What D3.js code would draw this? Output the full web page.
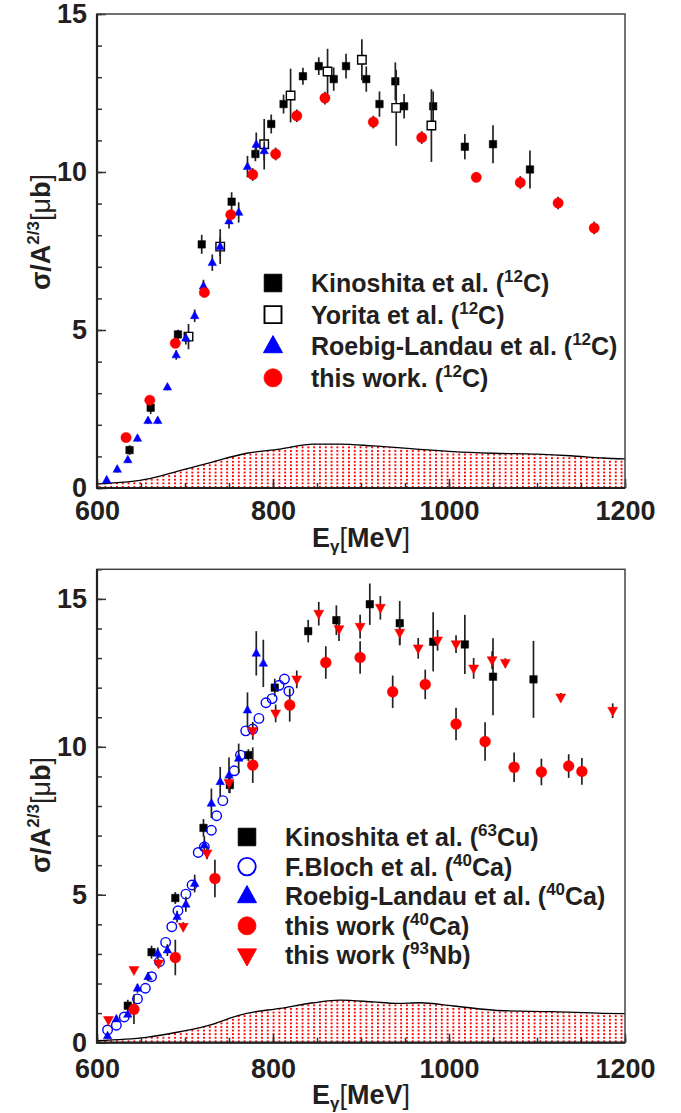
<!DOCTYPE html>
<html>
<head>
<meta charset="utf-8">
<script src="https://cdn.jsdelivr.net/npm/d3@7"></script>
<style>
body { margin: 0; background: #fff; }
text { font-family: "Liberation Sans", Arial, Helvetica, sans-serif; fill: #231f20; }
</style>
</head>
<body>
<svg id="chart" width="681" height="1113"></svg>
<script>
// ---------- top panel: 12C ----------
const kinoC_E   = [637, 661, 692, 719, 753, 780, 798, 812, 834, 852, 869, 883, 906, 921, 939, 949, 982, 1018, 1050, 1092];
const kinoC_V   = [1.20, 2.54, 4.86, 7.71, 9.06, 10.57, 11.52, 12.15, 13.03, 13.35, 12.94, 13.35, 12.94, 12.15, 12.87, 12.08, 12.08, 10.80, 10.88, 10.08];
const kinoC_Err = [0.15, 0.2, 0.15, 0.3, 0.3, 0.23, 0.3, 0.3, 0.27, 0.28, 0.37, 0.39, 0.4, 0.4, 0.6, 0.39, 0.47, 0.4, 0.6, 0.6];

const yoritaC_E   = [704, 740, 790, 820, 862, 901, 940, 980];
const yoritaC_V   = [4.79, 7.64, 10.88, 12.42, 13.18, 13.55, 12.03, 11.47];
const yoritaC_Err = [0.4, 0.55, 0.8, 0.85, 0.72, 0.65, 1.2, 1.15];

const roebigC_E   = [611, 623, 635, 646, 658, 669, 680, 690, 701, 711, 721, 731, 740, 750, 761, 771, 781, 790];
const roebigC_V   = [0.25, 0.59, 0.89, 1.57, 2.13, 2.13, 3.19, 4.21, 4.74, 5.45, 6.39, 7.13, 7.64, 8.45, 8.72, 10.17, 10.87, 10.67];
const roebigC_Err = [0.1, 0.1, 0.1, 0.1, 0.1, 0.1, 0.1, 0.15, 0.2, 0.2, 0.2, 0.26, 0.3, 0.24, 0.32, 0.34, 0.38, 0.3];

const thisC_E   = [633, 660, 689, 722, 752, 777, 803, 827, 859, 914, 969, 1031, 1081, 1124, 1165];
const thisC_V   = [1.60, 2.78, 4.58, 6.19, 8.65, 9.92, 10.57, 11.78, 12.34, 11.58, 11.09, 9.83, 9.67, 9.02, 8.23];
const thisC_Err = [0.1, 0.1, 0.1, 0.15, 0.15, 0.2, 0.2, 0.2, 0.2, 0.2, 0.2, 0.15, 0.2, 0.2, 0.2];

const bandC_E = [600, 660, 694, 732, 770, 808, 846, 876, 914, 960, 1005, 1050, 1100, 1138, 1175, 1200];
const bandC_V = [0.13, 0.30, 0.55, 0.83, 1.10, 1.23, 1.39, 1.39, 1.33, 1.24, 1.15, 1.10, 1.07, 1.02, 0.95, 0.92];

// ---------- bottom panel: 63Cu, 40Ca, 93Nb ----------
const kinoCu_E   = [635, 662, 689, 721, 751, 772, 802, 840, 872, 910, 944, 982, 1018, 1050, 1096];
const kinoCu_V   = [1.25, 3.06, 4.89, 7.26, 8.71, 9.72, 12.0, 13.91, 14.28, 14.82, 14.18, 13.55, 13.46, 12.37, 12.28];
const kinoCu_Err = [0.2, 0.22, 0.2, 0.3, 0.28, 0.2, 0.3, 0.38, 0.5, 0.7, 0.75, 1.0, 1.0, 1.3, 1.3];

const blochCa_E = [612, 622, 631, 646, 655, 662, 671, 678, 685, 692, 701, 708, 715, 722, 730, 736, 743, 756, 763, 769, 777, 784, 792, 799, 807, 813, 818];
const blochCa_V = [0.43, 0.59, 0.87, 1.48, 1.84, 2.23, 2.74, 3.39, 3.92, 4.46, 5.02, 5.33, 6.43, 6.62, 7.18, 7.67, 8.18, 9.19, 9.72, 10.54, 10.6, 10.96, 11.49, 11.63, 12.08, 12.29, 11.88];

const roebigCa_E   = [612, 622, 635, 646, 658, 669, 680, 691, 701, 711, 722, 730, 740, 750, 761, 771, 781, 789];
const roebigCa_V   = [0.23, 0.80, 0.96, 1.84, 2.23, 3.02, 3.13, 4.26, 4.68, 5.38, 6.68, 8.09, 8.82, 9.04, 9.61, 11.24, 13.16, 12.82];
const roebigCa_Err = [0.1, 0.1, 0.1, 0.15, 0.15, 0.2, 0.2, 0.2, 0.25, 0.3, 0.3, 0.5, 0.5, 0.6, 0.5, 0.6, 0.75, 0.8];

const thisCa_E   = [642, 689, 734, 777, 819, 860, 899, 936, 973, 1008, 1041, 1074, 1105, 1136, 1151];
const thisCa_V   = [1.13, 2.88, 5.55, 9.38, 11.41, 12.85, 13.02, 11.86, 12.11, 10.77, 10.18, 9.31, 9.15, 9.35, 9.17];
const thisCa_Err = [0.5, 0.6, 0.63, 0.6, 0.56, 0.55, 0.55, 0.55, 0.5, 0.55, 0.65, 0.5, 0.45, 0.4, 0.45];

const thisNb_E   = [613, 642, 670, 698, 725, 750, 777, 803, 827, 852, 875, 899, 922, 944, 965, 987, 1008, 1028, 1049, 1064, 1127, 1186];
const thisNb_V   = [0.77, 2.46, 2.68, 3.92, 6.40, 8.78, 10.54, 11.13, 12.28, 14.50, 13.98, 14.06, 14.70, 13.86, 13.33, 13.60, 13.47, 12.65, 12.93, 12.84, 11.67, 11.22];
const thisNb_Err = [0.1, 0.1, 0.15, 0.15, 0.2, 0.2, 0.3, 0.3, 0.3, 0.4, 0.4, 0.4, 0.4, 0.4, 0.35, 0.35, 0.3, 0.35, 0.3, 0.15, 0.15, 0.25];

const bandCa_E = [600, 656, 694, 732, 751, 770, 808, 846, 876, 914, 940, 967, 1005, 1062, 1118, 1175, 1200];
const bandCa_V = [0.07, 0.18, 0.37, 0.63, 0.83, 0.99, 1.16, 1.35, 1.44, 1.38, 1.33, 1.35, 1.24, 1.08, 1.05, 0.99, 0.98];

// ---------- ticks and labels ----------
const xMajorTicks = [600, 800, 1000, 1200];
const yMajorTicks = [0, 5, 10, 15];

const topLegendNames = ["Kinoshita et al. (", "Yorita et al. (", "Roebig-Landau et al. (", "this work. ("];
const topLegendIso   = ["12", "12", "12", "12"];
const topLegendElem  = ["C)", "C)", "C)", "C)"];

const botLegendNames = ["Kinoshita et al. (", "F.Bloch et al. (", "Roebig-Landau et al. (", "this work (", "this work ("];
const botLegendIso   = ["63", "40", "40", "40", "93"];
const botLegendElem  = ["Cu)", "Ca)", "Ca)", "Ca)", "Nb)"];

const svg = d3.select("#chart");

// red dotted fill of the systematic band
const pat = svg.append("defs").append("pattern")
    .attr("id", "dots")
    .attr("patternUnits", "userSpaceOnUse")
    .attr("width", 5.8).attr("height", 3.6);
pat.append("rect").attr("width", 1.9).attr("height", 1.9).attr("fill", "#ff0000");

// marker shapes
const shapePath = (shape, s) => {
    if (shape === "square") return `M${-s/2},${-s/2}h${s}v${s}h${-s}Z`;
    const h = s * 0.9;
    if (shape === "triUp") return `M0,${-h*0.62}L${s/2},${h*0.38}L${-s/2},${h*0.38}Z`;
    if (shape === "triDown") return `M0,${h*0.62}L${s/2},${-h*0.38}L${-s/2},${-h*0.38}Z`;
    return null;
};

const drawMarker = (g, shape, s, fill, stroke, sw) => {
    if (shape === "circle") {
        return g.append("circle").attr("r", s / 2)
            .attr("fill", fill).attr("stroke", stroke).attr("stroke-width", sw);
    }
    return g.append("path").attr("d", shapePath(shape, s))
        .attr("fill", fill).attr("stroke", stroke).attr("stroke-width", sw);
};

function drawPanel(p) {
    const x = d3.scaleLinear().domain([600, 1200]).range([p.x0, p.x1]);
    const y = d3.scaleLinear().domain([0, p.yMax]).range([p.yBot, p.yTop]);
    const g = svg.append("g");

    // band
    const area = d3.area()
        .x((d, i) => x(p.bandE[i]))
        .y0(y(0))
        .y1((d, i) => y(p.bandV[i]))
        .curve(d3.curveMonotoneX);
    const line = d3.line()
        .x((d, i) => x(p.bandE[i]))
        .y((d, i) => y(p.bandV[i]))
        .curve(d3.curveMonotoneX);
    g.append("path").datum(p.bandE).attr("d", area).attr("fill", "url(#dots)");
    g.append("path").datum(p.bandE).attr("d", line)
        .attr("fill", "none").attr("stroke", "#000").attr("stroke-width", 1.3);

    // axes, ticks drawn inward
    const styleAxis = sel => {
        sel.select(".domain").remove();
        sel.attr("color", "#333")
            .attr("font-family", "'Liberation Sans', Arial, sans-serif")
            .attr("font-size", 27)
            .attr("font-weight", "bold");
        sel.selectAll("text").attr("fill", "#231f20");
        sel.selectAll("line").attr("stroke-width", 1.5);
    };
    g.append("g").attr("transform", `translate(${p.x0},0)`)
        .call(d3.axisLeft(y).tickValues(d3.range(0, p.yMax + 1, 1)).tickSize(-5).tickFormat(""))
        .call(styleAxis);
    g.append("g").attr("transform", `translate(${p.x0},0)`)
        .call(d3.axisLeft(y).tickValues(yMajorTicks).tickSize(-9).tickPadding(10))
        .call(styleAxis);
    g.append("g").attr("transform", `translate(0,${p.yBot})`)
        .call(d3.axisBottom(x).tickValues(d3.range(600, 1201, 50)).tickSize(-5).tickFormat(""))
        .call(styleAxis);
    g.append("g").attr("transform", `translate(0,${p.yBot})`)
        .call(d3.axisBottom(x).tickValues(xMajorTicks).tickSize(-9).tickPadding(p.xPad).tickFormat(d3.format("d")))
        .call(styleAxis);

    // frame
    g.append("rect")
        .attr("x", p.x0).attr("y", p.yTop)
        .attr("width", p.x1 - p.x0).attr("height", p.yBot - p.yTop)
        .attr("fill", "none").attr("stroke", "#444").attr("stroke-width", 1.5);
    g.append("path")
        .attr("d", `M${p.x0},${p.yTop}V${p.yBot}H${p.x1}`)
        .attr("fill", "none").attr("stroke", "#222").attr("stroke-width", 2.2);

    // error bars then markers, series by series
    p.series.forEach(s => {
        const sg = g.append("g");
        if (s.err) {
            s.E.forEach((e, i) => {
                sg.append("line")
                    .attr("x1", x(e)).attr("x2", x(e))
                    .attr("y1", y(s.V[i] - s.err[i])).attr("y2", y(s.V[i] + s.err[i]))
                    .attr("stroke", "#222").attr("stroke-width", 1.7);
            });
        }
        s.E.forEach((e, i) => {
            const mg = sg.append("g").attr("transform", `translate(${x(e)},${y(s.V[i])})`);
            drawMarker(mg, s.shape, s.size, s.fill, s.stroke, s.sw);
        });
    });

    // legend
    const L = p.legend;
    p.series.forEach((s, i) => {
        const cy = L.y0 + i * L.dy;
        const mg = g.append("g").attr("transform", `translate(${L.x},${cy})`);
        drawMarker(mg, s.shape, s.legendSize, s.fill, s.stroke, s.sw + 0.5);
        const t = g.append("text")
            .attr("x", L.tx).attr("y", cy + 9)
            .attr("font-size", 25).attr("font-weight", "bold");
        t.append("tspan").text(L.names[i]);
        t.append("tspan").attr("font-size", 17).attr("dy", -10).text(L.iso[i]);
        t.append("tspan").attr("dy", 10).text(L.elem[i]);
    });

    // axis titles
    const xt = g.append("text")
        .attr("x", (p.x0 + p.x1) / 2).attr("y", p.xTitleY)
        .attr("text-anchor", "middle").attr("font-size", 27).attr("font-weight", "bold");
    xt.append("tspan").text("E");
    xt.append("tspan").attr("font-size", 17).attr("dy", 5).text("γ");
    xt.append("tspan").attr("font-weight", "normal").attr("dy", -5).text("[");
    xt.append("tspan").text("MeV");
    xt.append("tspan").attr("font-weight", "normal").text("]");

    const yt = g.append("text")
        .attr("transform", `translate(50,${p.yTitleY}) rotate(-90)`)
        .attr("text-anchor", "middle").attr("font-size", 27).attr("font-weight", "bold");
    yt.append("tspan").text("σ/A");
    yt.append("tspan").attr("font-size", 17).attr("dy", -11).text("2/3");
    yt.append("tspan").attr("font-weight", "normal").attr("dy", 11).text("[");
    yt.append("tspan").attr("font-weight", "normal").text("μ");
    yt.append("tspan").text("b");
    yt.append("tspan").attr("font-weight", "normal").text("]");
}

drawPanel({
    x0: 97, x1: 625, yTop: 14, yBot: 488, yMax: 15, xPad: 13,
    xTitleY: 547, yTitleY: 232,
    bandE: bandC_E, bandV: bandC_V,
    series: [
        { E: kinoC_E, V: kinoC_V, err: kinoC_Err, shape: "square", size: 7.5, fill: "#000", stroke: "#000", sw: 0.5, legendSize: 17.5 },
        { E: yoritaC_E, V: yoritaC_V, err: yoritaC_Err, shape: "square", size: 8.5, fill: "#fff", stroke: "#000", sw: 1.4, legendSize: 17 },
        { E: roebigC_E, V: roebigC_V, err: roebigC_Err, shape: "triUp", size: 8.5, fill: "#0000ff", stroke: "#0000ff", sw: 0.5, legendSize: 19 },
        { E: thisC_E, V: thisC_V, err: thisC_Err, shape: "circle", size: 10.5, fill: "#ff0000", stroke: "#ff0000", sw: 0.3, legendSize: 18 }
    ],
    legend: { x: 273, tx: 311, y0: 283, dy: 31.6, names: topLegendNames, iso: topLegendIso, elem: topLegendElem }
});

drawPanel({
    x0: 97, x1: 625, yTop: 569.3, yBot: 1042.7, yMax: 16, xPad: 16,
    xTitleY: 1104, yTitleY: 815,
    bandE: bandCa_E, bandV: bandCa_V,
    series: [
        { E: kinoCu_E, V: kinoCu_V, err: kinoCu_Err, shape: "square", size: 7.5, fill: "#000", stroke: "#000", sw: 0.5, legendSize: 17.5 },
        { E: blochCa_E, V: blochCa_V, err: null, shape: "circle", size: 9.5, fill: "none", stroke: "#0000ff", sw: 1.4, legendSize: 17.5 },
        { E: roebigCa_E, V: roebigCa_V, err: roebigCa_Err, shape: "triUp", size: 8.5, fill: "#0000ff", stroke: "#0000ff", sw: 0.5, legendSize: 19 },
        { E: thisCa_E, V: thisCa_V, err: thisCa_Err, shape: "circle", size: 11, fill: "#ff0000", stroke: "#ff0000", sw: 0.3, legendSize: 18 },
        { E: thisNb_E, V: thisNb_V, err: thisNb_Err, shape: "triDown", size: 10, fill: "#ff0000", stroke: "#ff0000", sw: 0.5, legendSize: 19 }
    ],
    legend: { x: 247, tx: 285, y0: 837, dy: 29.6, names: botLegendNames, iso: botLegendIso, elem: botLegendElem }
});
</script>
</body>
</html>
